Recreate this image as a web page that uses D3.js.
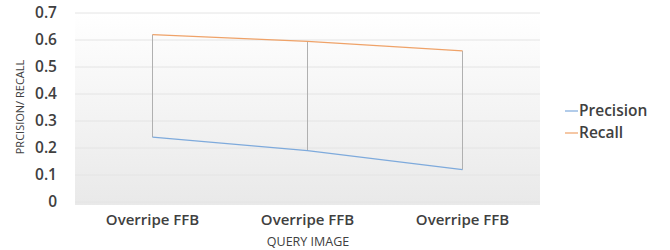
<!DOCTYPE html>
<html><head><meta charset="utf-8">
<script src="https://cdn.jsdelivr.net/npm/d3@7"></script>
<style>body{margin:0;background:#fff;}svg{display:block;font-family:"Open Sans",sans-serif;}</style>
</head><body>
<svg id="c" width="670" height="250"></svg>
<script>
const categories = ["Overripe FFB", "Overripe FFB", "Overripe FFB"];
const precision = [0.24, 0.19, 0.12];
const recall = [0.62, 0.595, 0.56];
const yTicks = [0, 0.1, 0.2, 0.3, 0.4, 0.5, 0.6, 0.7];
const seriesNames = ["Precision", "Recall"];
const colors = ["#7eaadc", "#efa268"];

const svg = d3.select("#c");
const L = 75, R = 540, T = 13, B = 202;
const x = d3.scaleBand().domain(d3.range(categories.length)).range([L, R]);
const y = d3.scaleLinear().domain([0, 0.7]).range([B, T]);

const defs = svg.append("defs");
const g = defs.append("linearGradient").attr("id","bg").attr("x1",0).attr("y1",0).attr("x2",0).attr("y2",1);
g.append("stop").attr("offset","0%").attr("stop-color","#ffffff");
g.append("stop").attr("offset","100%").attr("stop-color","#e9e9e9");
svg.append("rect").attr("x",L).attr("y",T).attr("width",R-L).attr("height",B-T+3).attr("fill","url(#bg)");

svg.append("g").selectAll("line").data(yTicks).join("line")
  .attr("x1",L).attr("x2",R).attr("y1",d=>y(d)).attr("y2",d=>y(d))
  .attr("stroke","#e4e4e4").attr("stroke-width",1);

svg.append("g").selectAll("text").data(yTicks).join("text")
  .attr("x",57).attr("y",d=>y(d)).attr("dy","0.35em").attr("text-anchor","end")
  .attr("font-size",15.5).attr("font-weight",600).attr("fill","#404040")
  .text(d=>d===0?"0":d3.format(".1f")(d));

const cx = i => x(i) + x.bandwidth()/2;
svg.append("g").selectAll("line").data(categories).join("line")
  .attr("x1",(d,i)=>cx(i)).attr("x2",(d,i)=>cx(i))
  .attr("y1",(d,i)=>y(recall[i])).attr("y2",(d,i)=>y(precision[i]))
  .attr("stroke","#b0b0b0").attr("stroke-width",1);

const line = d3.line().x((d,i)=>cx(i)).y(d=>y(d));
[precision, recall].forEach((s,k)=>{
  svg.append("path").attr("d",line(s)).attr("fill","none").attr("stroke",colors[k]).attr("stroke-width",1.2);
});

svg.append("g").selectAll("text").data(categories).join("text")
  .attr("x",(d,i)=>cx(i)).attr("y",220).attr("dy","0.35em").attr("text-anchor","middle")
  .attr("font-size",15).attr("font-weight",600).attr("fill","#404040").text(d=>d);

svg.append("text").attr("x",308).attr("y",242).attr("dy","0.35em").attr("text-anchor","middle")
  .attr("font-size",12.5).attr("font-weight",500).attr("fill","#404040").text("QUERY IMAGE");

svg.append("text").attr("transform","translate(20,107) rotate(-90)").attr("text-anchor","middle")
  .attr("dy","0.35em").attr("font-size",11).attr("fill","#404040").text("PRCISION/ RECALL");

const lg = svg.append("g").selectAll("g").data(seriesNames).join("g")
  .attr("transform",(d,i)=>`translate(565,${111+i*22})`);
lg.append("line").attr("x1",0).attr("x2",13).attr("stroke",(d,i)=>colors[i]).attr("stroke-width",1.2);
lg.append("text").attr("x",14).attr("dy","0.35em").attr("font-size",15.5).attr("font-weight",600)
  .attr("fill","#404040").text(d=>d);
</script>
</body></html>
